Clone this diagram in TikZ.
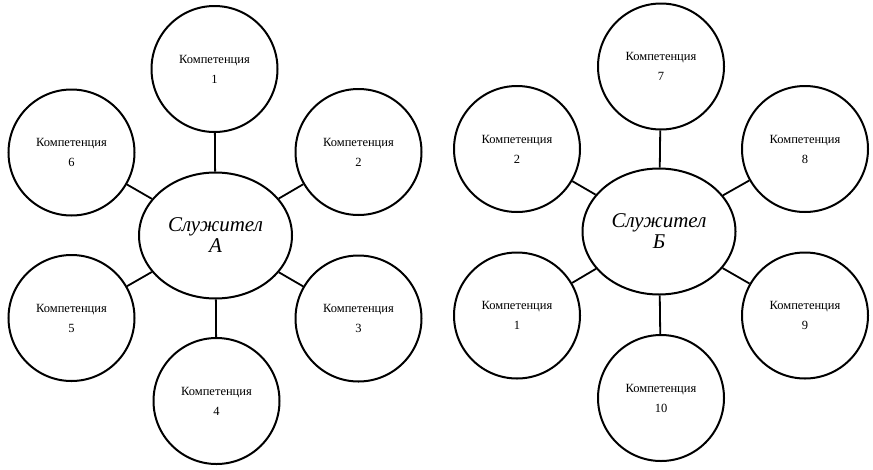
\documentclass[tikz,border=0pt]{standalone}
\usepackage{fontspec}
\setmainfont{Liberation Serif}
\usetikzlibrary{shapes.geometric}
\begin{document}
\begin{tikzpicture}[x=1pt,y=-1pt,
  comp/.style={circle,draw,line width=2pt,minimum size=126pt,inner sep=0pt,align=center,
    font=\fontsize{12.5}{20}\selectfont},
  hub/.style={ellipse,draw,line width=2pt,minimum width=153pt,minimum height=126pt,inner sep=0pt,align=center,
    font=\fontsize{21}{21}\selectfont\itshape},
  link/.style={line width=1.8pt}]
\fill[white] (0,0) rectangle (873,469);
\useasboundingbox (0,0) rectangle (873,469);
% left
\node[hub] (eA) at (215.5,235.5) {Служител\\А};
\node[comp] (a1) at (214.5,69) {Компетенция\\1};
\node[comp] (a2) at (358.5,152) {Компетенция\\2};
\node[comp] (a3) at (358.5,318.5) {Компетенция\\3};
\node[comp] (a4) at (216.5,401) {Компетенция\\4};
\node[comp] (a5) at (71.5,318) {Компетенция\\5};
\node[comp] (a6) at (71.5,152.5) {Компетенция\\6};
\foreach \n in {a1,a2,a3,a4,a5,a6} \draw[link] (eA) -- (\n);
% right
\node[hub] (eB) at (659,231.5) {Служител\\Б};
\node[comp] (b7) at (661,66.5) {Компетенция\\7};
\node[comp] (b2) at (517,149) {Компетенция\\2};
\node[comp] (b8) at (805,149) {Компетенция\\8};
\node[comp] (b9) at (805,315.5) {Компетенция\\9};
\node[comp] (b10) at (661,398) {Компетенция\\10};
\node[comp] (b1) at (517,315.5) {Компетенция\\1};
\foreach \n in {b7,b2,b8,b9,b10,b1} \draw[link] (eB) -- (\n);
\end{tikzpicture}
\end{document}
